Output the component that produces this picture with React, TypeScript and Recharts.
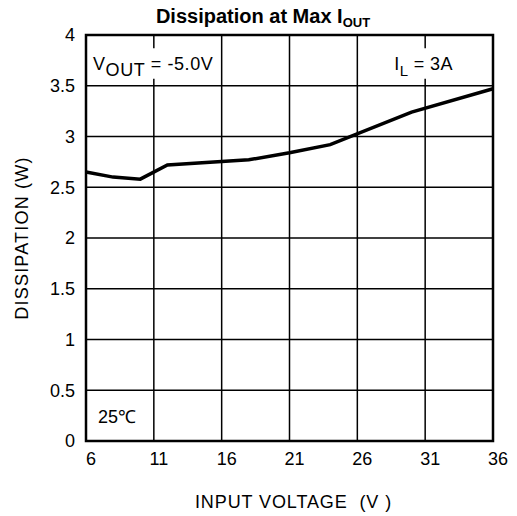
import React from "react";
import {
  LineChart,
  Line,
  XAxis,
  YAxis,
  CartesianGrid,
  ReferenceArea,
} from "recharts";

const inputVoltage = [6, 8, 10, 12, 18, 21, 24, 30, 36];
const dissipation = [2.65, 2.6, 2.58, 2.72, 2.77, 2.84, 2.92, 3.24, 3.47];
const xTicks = [6, 11, 16, 21, 26, 31, 36];
const yTicks = [0, 0.5, 1, 1.5, 2, 2.5, 3, 3.5, 4];

const data = inputVoltage.map((v, i) => ({ v, d: dissipation[i] }));

const FONT = "'Liberation Sans', Arial, Helvetica, sans-serif";

const VoutLabel = (props: any) => {
  const { viewBox } = props;
  return (
    <text x={viewBox.x + 7} y={viewBox.y + 22} fontSize={18} fill="#000" fontFamily={FONT} letterSpacing={0.6} style={{ whiteSpace: "pre" }}>
      V
      <tspan dy={6}>OUT</tspan>
      <tspan dy={-6}>{" = -5.0V"}</tspan>
    </text>
  );
};

const IlLabel = (props: any) => {
  const { viewBox } = props;
  return (
    <text x={viewBox.x + 3} y={viewBox.y + 22} fontSize={18} fill="#000" fontFamily={FONT} letterSpacing={0.4} style={{ whiteSpace: "pre" }}>
      I
      <tspan dy={6} fontSize={15}>L</tspan>
      <tspan dy={-6}>{" = 3A"}</tspan>
    </text>
  );
};

const TempLabel = (props: any) => {
  const { viewBox } = props;
  return (
    <text x={viewBox.x + 12} y={viewBox.y + viewBox.height - 18} fontSize={18} fill="#000" fontFamily={FONT}>
      25℃
    </text>
  );
};

const YLabel = (props: any) => {
  const { viewBox } = props;
  const cx = viewBox.x + 28;
  const cy = viewBox.y + viewBox.height / 2;
  return (
    <text
      x={cx}
      y={cy}
      transform={`rotate(-90 ${cx} ${cy})`}
      textAnchor="middle"
      fontSize={18}
      fill="#000"
      fontFamily={FONT}
      letterSpacing={1.2}
    >
      DISSIPATION  (W)
    </text>
  );
};

const XLabel = (props: any) => {
  const { viewBox } = props;
  const cx = viewBox.x + viewBox.width / 2 + 4;
  return (
    <text
      x={cx}
      y={viewBox.y + 67}
      textAnchor="middle"
      fontSize={18}
      fill="#000"
      fontFamily={FONT}
      letterSpacing={0.9}
      style={{ whiteSpace: "pre" }}
    >
      {"INPUT VOLTAGE  (V )"}
    </text>
  );
};

export default function App() {
  return (
    <div style={{ position: "absolute", left: 0, top: 0, width: 517, height: 516, background: "#fff", fontFamily: FONT }}>
      <LineChart
        width={517}
        height={516}
        data={data}
        margin={{ top: 35, right: 24, bottom: 0, left: 0 }}
        style={{ fontFamily: FONT }}
      >
        <text x={263} y={23} textAnchor="middle" fontSize={20} fontWeight="bold" fill="#000" fontFamily={FONT}>
          Dissipation at Max I
          <tspan dy={4} fontSize={13}>OUT</tspan>
        </text>
        <CartesianGrid stroke="#000" strokeWidth={1.5} horizontalValues={yTicks} verticalValues={xTicks} />
        <XAxis
          dataKey="v"
          type="number"
          domain={[6, 36]}
          ticks={xTicks}
          interval={0}
          height={75}
          axisLine={false}
          tickLine={false}
          tickSize={6}
          tickMargin={5}
          tick={{ fontSize: 18, fill: "#000", dx: 5, fontFamily: FONT }}
          label={<XLabel />}
        />
        <YAxis
          type="number"
          domain={[0, 4]}
          ticks={yTicks}
          interval={0}
          width={86}
          axisLine={false}
          tickLine={false}
          tickSize={6}
          tickMargin={5}
          tick={{ fontSize: 18, fill: "#000", fontFamily: FONT }}
          label={<YLabel />}
        />
        <ReferenceArea x1={6} x2={15.6} y1={3.57} y2={3.87} fill="#fff" fillOpacity={1} stroke="none" label={<VoutLabel />} />
        <ReferenceArea x1={28.5} x2={36} y1={3.57} y2={3.87} fill="#fff" fillOpacity={1} stroke="none" label={<IlLabel />} />
        <ReferenceArea x1={6} x2={11} y1={0} y2={0.5} fill="none" stroke="none" label={<TempLabel />} />
        <Line
          type="linear"
          dataKey="d"
          stroke="#000"
          strokeWidth={3.5}
          dot={false}
          isAnimationActive={false}
        />
        <ReferenceArea x1={6} x2={36} y1={0} y2={4} fill="none" stroke="#000" strokeWidth={2.5} />
      </LineChart>
    </div>
  );
}
